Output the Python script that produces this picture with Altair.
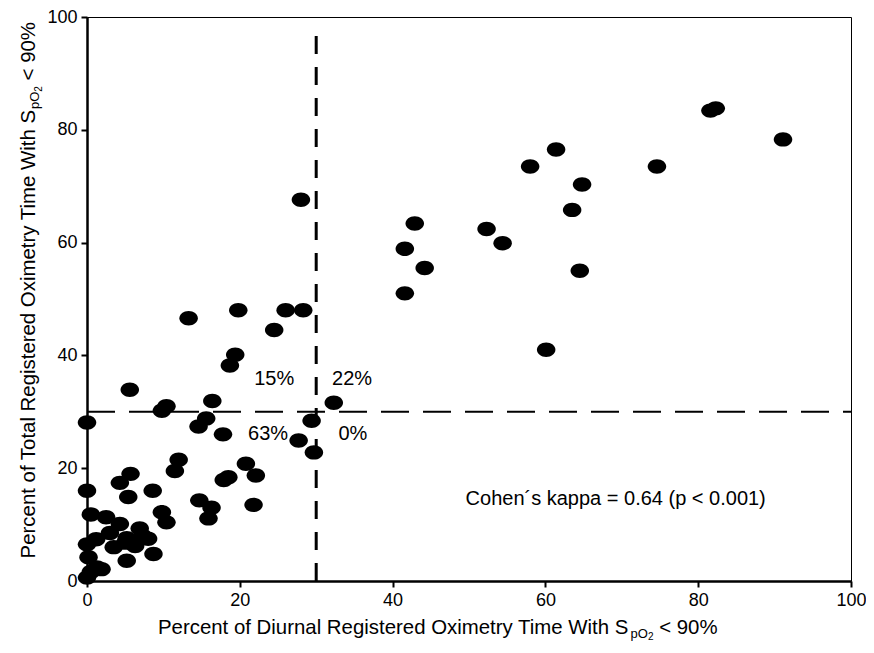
import altair as alt
import pandas as pd

# ---- data ----
x_vals = [81.6, 82.3, 91.1, 61.4, 58.0, 74.6, 64.8, 63.5, 42.9, 52.3, 41.6, 54.4, 44.2, 64.5, 41.6, 60.1, 28.0,
          13.3, 19.8, 26.0, 28.3, 24.5, 19.4, 18.7, 5.6, 32.3, 10.4, 9.8, 16.4, 0.0, 15.6, 14.6, 29.4, 17.8, 27.7,
          29.7, 12.0, 11.5, 20.8, 22.1, 18.5, 17.9, 5.7, 4.3, 0.0, 8.6, 5.4, 14.7, 21.8, 16.3, 15.9,
          0.5, 2.5, 4.3, 9.8, 10.4, 6.9, 3.0, 1.2, 0.0, 5.2, 8.0, 7.3, 3.5, 6.3, 5.0, 8.7, 5.2, 0.2, 1.3, 0.0,
          0.5, 1.9]
y_vals = [83.4, 83.8, 78.3, 76.5, 73.5, 73.5, 70.3, 65.8, 63.4, 62.4, 58.9, 59.9, 55.5, 55.0, 51.0, 41.0, 67.6,
          46.6, 48.0, 48.0, 48.0, 44.5, 40.1, 38.2, 33.9, 31.6, 31.0, 30.2, 31.9, 28.1, 28.8, 27.4, 28.4, 26.0, 24.9,
          22.8, 21.5, 19.5, 20.8, 18.7, 18.4, 17.9, 19.0, 17.4, 16.0, 16.0, 14.9, 14.3, 13.5, 13.0, 11.1,
          11.8, 11.3, 10.1, 12.2, 10.4, 9.3, 8.5, 7.4, 6.5, 7.6, 7.5, 8.0, 6.0, 6.2, 6.8, 4.8, 3.6, 4.2, 2.4, 0.6,
          1.6, 2.1]
quad_labels = ["15%", "22%", "63%", "0%"]
quad_x = [24.5, 34.7, 23.7, 34.8]
quad_y = [35.8, 35.8, 26.0, 26.0]
kappa_text = ["Cohen´s kappa = 0.64 (p < 0.001)"]
kappa_x = [69.2]
kappa_y = [14.6]
x_ticks = [0, 20, 40, 60, 80, 100]
y_ticks = [0, 20, 40, 60, 80, 100]
cutoff = 30
vline_top = 98

x_title_main = "Percent of Diurnal Registered Oximetry Time With S"
y_title_main = "Percent of Total Registered Oximetry Time With S"
sub_1 = "pO"
sub_2 = "2"
title_tail = "< 90%"

W, H = 764, 564
FONT = "Liberation Sans"
ELLIPSE = "M-1,0A1,0.78,0,1,1,1,0A1,0.78,0,1,1,-1,0Z"

pts_df = pd.DataFrame({"x": x_vals, "y": y_vals})
quad_df = pd.DataFrame({"label": quad_labels, "x": quad_x, "y": quad_y})
kappa_df = pd.DataFrame({"label": kappa_text, "x": kappa_x, "y": kappa_y})
vline_df = pd.DataFrame({"x": [cutoff], "y": [0], "y2": [vline_top]})
hline_df = pd.DataFrame({"y": [cutoff], "x": [0], "x2": [100]})

xs = alt.Scale(domain=[0, 100], nice=False, zero=False)
ys = alt.Scale(domain=[0, 100], nice=False, zero=False)

axis_common = dict(title=None, grid=False, domainColor="black", domainWidth=2.5,
                   tickColor="black", tickWidth=2, tickSize=6, labelFontSize=18,
                   labelFont=FONT, labelColor="black", labelPadding=4, labelFlush=False,
                   labelOverlap=False)

points = alt.Chart(pts_df).mark_point(
    shape=ELLIPSE, size=342, filled=True, color="black", opacity=1, strokeWidth=0
).encode(
    x=alt.X("x:Q", scale=xs, axis=alt.Axis(values=x_ticks, **axis_common)),
    y=alt.Y("y:Q", scale=ys, axis=alt.Axis(values=y_ticks, **axis_common)),
)

vline = alt.Chart(vline_df).mark_rule(
    color="black", strokeWidth=3, strokeDash=[18, 13]
).encode(x=alt.X("x:Q", scale=xs), y=alt.Y("y:Q", scale=ys), y2="y2:Q")

hline = alt.Chart(hline_df).mark_rule(
    color="black", strokeWidth=2, strokeDash=[28, 14]
).encode(y=alt.Y("y:Q", scale=ys), x=alt.X("x:Q", scale=xs), x2="x2:Q")

quad = alt.Chart(quad_df).mark_text(
    font=FONT, fontSize=20, color="black", align="center", baseline="middle"
).encode(x=alt.X("x:Q", scale=xs), y=alt.Y("y:Q", scale=ys), text="label:N")

kappa = alt.Chart(kappa_df).mark_text(
    font=FONT, fontSize=20, color="black", align="center", baseline="middle"
).encode(x=alt.X("x:Q", scale=xs), y=alt.Y("y:Q", scale=ys), text="label:N")

def txt(s, x, y, size, align="left", angle=0):
    return alt.Chart(pd.DataFrame({"t": [s]})).mark_text(
        font=FONT, fontSize=size, color="black", align=align,
        baseline="alphabetic", angle=angle
    ).encode(x=alt.value(x), y=alt.value(y), text="t:N")

TS = 20.4
# x-axis title pieces
xt_x0 = 71
xt_y = 617
main_w = 23.117 * TS
xs_end = xt_x0 + main_w
x_title = [
    txt(x_title_main, xt_x0, xt_y, TS, "left"),
    txt(sub_1, xs_end + 1, xt_y + 4, 13, "left"),
    txt(sub_2, xs_end + 1 + 17.3, xt_y + 6, 10, "left"),
    txt(title_tail, xs_end + 1 + 17.3 + 5.6 + 0.278 * TS, xt_y, TS, "left"),
]

# y-axis title pieces (rotated)
yt_x = -52
yt_end = 93
y_title = [
    txt(y_title_main, yt_x, yt_end, TS, "right", 270),
    txt(sub_1, yt_x + 4, yt_end - 1, 13, "left", 270),
    txt(sub_2, yt_x + 7, yt_end - 1 - 17.3, 10, "left", 270),
    txt(title_tail, yt_x, yt_end - 1 - 17.3 - 5.6 - 0.278 * TS, TS, "left", 270),
]

chart = alt.layer(
    hline, vline, points, quad, kappa, *x_title, *y_title
).properties(
    width=W, height=H,
    autosize=alt.AutoSizeParams(type="none"),
    padding={"left": 79, "top": 9, "right": 15, "bottom": 62},
    background="white",
).configure_view(stroke="black", strokeWidth=1)

chart.save("out.html", embed_options={"renderer": "svg", "actions": False})
